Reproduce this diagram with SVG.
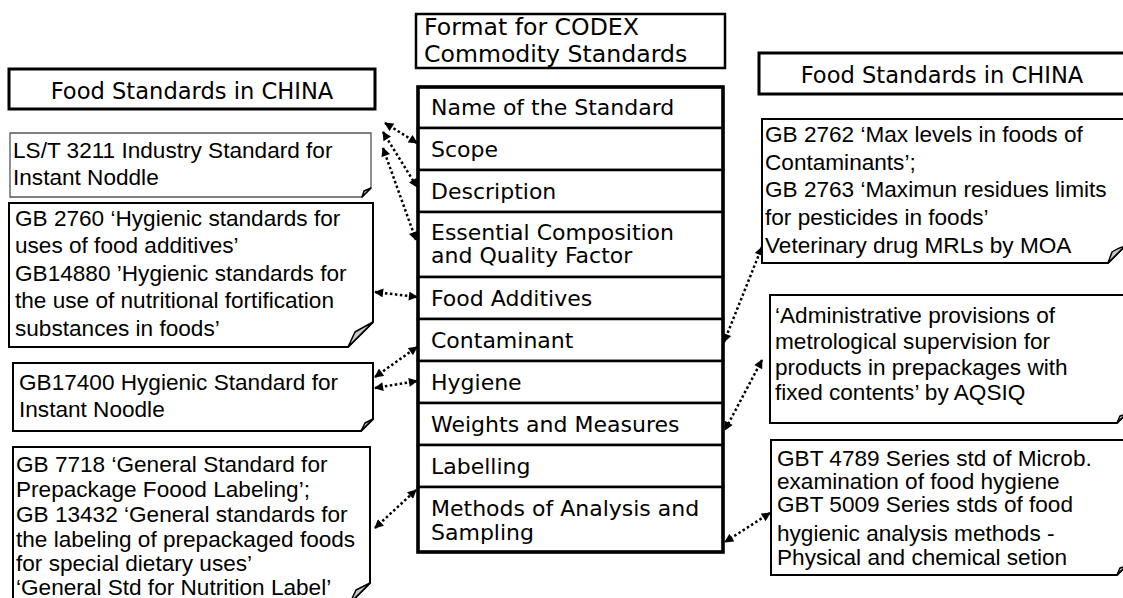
<svg xmlns="http://www.w3.org/2000/svg" width="1123" height="598" viewBox="0 0 1123 598">
<style>
.hdr{fill:#fff;stroke:#000;stroke-width:3}
.row{fill:#fff;stroke:#000;stroke-width:2.5}
.note{fill:#fff;stroke:#000;stroke-width:2}
.thin{fill:#fff;stroke:#555;stroke-width:1.3}
.flap{fill:#c8c8c8;stroke:#000;stroke-width:1.5;stroke-linejoin:round}
.v{font-family:"DejaVu Sans",Verdana,sans-serif;font-size:22px;fill:#000}
.h{font-family:"DejaVu Sans",Verdana,sans-serif;font-size:22.6px;fill:#000}
.a{font-family:"Liberation Sans",Arial,sans-serif;font-size:22.6px;fill:#000}
.conn{fill:none;stroke:#000;stroke-width:2.5;stroke-dasharray:2.5 2.5;marker-start:url(#ah);marker-end:url(#ah)}
</style>
<defs>
<marker id="ah" viewBox="0 0 10 10" refX="9" refY="5" markerWidth="10" markerHeight="9" markerUnits="userSpaceOnUse" orient="auto-start-reverse">
<path d="M0,0 L10,5 L0,10 z" fill="#000"/>
</marker>
</defs>
<rect width="1123" height="598" fill="#fff"/>

<g id="codex-header">
<rect class="row" x="416" y="14" width="309" height="54"/>
<text class="v" x="424" y="35" style="font-size:23.6px">Format for CODEX</text>
<text class="v" x="424" y="62" style="font-size:23.6px">Commodity Standards</text>
</g>

<g id="china-header-left">
<rect class="hdr" x="9" y="69" width="366" height="40"/>
<text class="h" x="192" y="99" text-anchor="middle">Food Standards in CHINA</text>
</g>

<g id="china-header-right">
<rect class="hdr" x="759" y="53" width="370" height="41"/>
<text class="h" x="942" y="83" text-anchor="middle">Food Standards in CHINA</text>
</g>

<g id="row-name"><rect class="row" x="418" y="87" width="305" height="41"/><text class="v" x="431" y="115">Name of the Standard</text></g>
<g id="row-scope"><rect class="row" x="418" y="128" width="305" height="42"/><text class="v" x="431" y="157">Scope</text></g>
<g id="row-description"><rect class="row" x="418" y="170" width="305" height="42"/><text class="v" x="431" y="199">Description</text></g>
<g id="row-essential"><rect class="row" x="418" y="212" width="305" height="65"/><text class="v" x="431" y="240">Essential Composition</text><text class="v" x="431" y="263">and Quality Factor</text></g>
<g id="row-additives"><rect class="row" x="418" y="277" width="305" height="42"/><text class="v" x="431" y="306">Food Additives</text></g>
<g id="row-contaminant"><rect class="row" x="418" y="319" width="305" height="42"/><text class="v" x="431" y="348">Contaminant</text></g>
<g id="row-hygiene"><rect class="row" x="418" y="361" width="305" height="42"/><text class="v" x="431" y="390">Hygiene</text></g>
<g id="row-weights"><rect class="row" x="418" y="403" width="305" height="42"/><text class="v" x="431" y="432">Weights and Measures</text></g>
<g id="row-labelling"><rect class="row" x="418" y="445" width="305" height="42"/><text class="v" x="431" y="474">Labelling</text></g>
<g id="row-methods"><rect class="row" x="418" y="487" width="305" height="65"/><text class="v" x="431" y="516">Methods of Analysis and</text><text class="v" x="431" y="540">Sampling</text></g>
<rect x="418" y="87" width="305" height="465" fill="none" stroke="#000" stroke-width="3.5"/>

<g id="note-lst3211">
<path class="thin" d="M10,133 H371 V188 L362,197 H10 Z"/>
<path class="flap" d="M371,188 L364,191 L362,197 Z"/>
<text class="a" x="13" y="158">LS/T 3211 Industry Standard for</text>
<text class="a" x="13" y="185">Instant Noddle</text>
</g>

<g id="note-gb2760">
<path class="note" d="M9,203 H373 V322 L348,347 H9 Z"/>
<path class="flap" d="M373,322 Q362,328 355,332 L348,347 Z"/>
<text class="a" x="15" y="226">GB 2760 ‘Hygienic standards for</text>
<text class="a" x="15" y="253">uses of food additives’</text>
<text class="a" x="15" y="281">GB14880 ’Hygienic standards for</text>
<text class="a" x="15" y="308">the use of nutritional fortification</text>
<text class="a" x="15" y="336">substances  in foods’</text>
</g>

<g id="note-gb17400">
<path class="note" d="M13,363 H373 V419 L361,431 H13 Z"/>
<path class="flap" d="M373,419 L365,423 L361,431 Z"/>
<text class="a" x="19" y="390">GB17400 Hygienic Standard for</text>
<text class="a" x="19" y="417">Instant Noodle</text>
</g>

<g id="note-gb7718">
<path class="note" d="M13,447 H370 V583 L350,603 H13 Z"/>
<path class="flap" d="M370,583 Q362,587 356,590 L350,603 Z"/>
<text class="a" x="16" y="472">GB 7718 ‘General Standard for</text>
<text class="a" x="16" y="497">Prepackage Foood Labeling’;</text>
<text class="a" x="16" y="522">GB 13432 ‘General standards for</text>
<text class="a" x="16" y="547">the labeling of prepackaged foods</text>
<text class="a" x="16" y="571">for special dietary uses’</text>
<text class="a" x="16" y="595">‘General Std for Nutrition Label’</text>
</g>

<g id="note-gb2762">
<path class="note" d="M762,119 H1125 V246 L1108,263 H762 Z"/>
<path class="flap" d="M1125,246 Q1116,249 1112,252 L1108,263 Z"/>
<text class="a" x="765" y="142">GB 2762 ‘Max levels in foods of</text>
<text class="a" x="765" y="170">Contaminants’;</text>
<text class="a" x="765" y="197">GB 2763 ‘Maximun residues limits</text>
<text class="a" x="765" y="225">for pesticides in foods’</text>
<text class="a" x="765" y="253">Veterinary drug MRLs by MOA</text>
</g>

<g id="note-aqsiq">
<path class="note" d="M770,295 H1126 V414 L1117,423 H770 Z"/>
<path class="flap" d="M1126,414 L1120,416 L1117,423 Z"/>
<text class="a" x="775" y="323">‘Administrative provisions of</text>
<text class="a" x="775" y="349">metrological supervision for</text>
<text class="a" x="775" y="375">products in prepackages with</text>
<text class="a" x="775" y="400">fixed contents’ by AQSIQ</text>
</g>

<g id="note-gbt4789">
<path class="note" d="M771,440 H1126 V566 L1117,575 H771 Z"/>
<path class="flap" d="M1126,566 L1120,568 L1117,575 Z"/>
<text class="a" x="777" y="466">GBT 4789 Series std of  Microb.</text>
<text class="a" x="777" y="489">examination of food hygiene</text>
<text class="a" x="777" y="512">GBT 5009 Series stds of food</text>
<text class="a" x="777" y="541">hygienic analysis methods  -</text>
<text class="a" x="777" y="565">Physical and chemical setion</text>
</g>

<g id="connectors">
<line class="conn" x1="385" y1="123" x2="417" y2="143"/>
<line class="conn" x1="383" y1="132" x2="417" y2="187"/>
<line class="conn" x1="383" y1="148" x2="416" y2="240"/>
<line class="conn" x1="375" y1="292" x2="417" y2="297"/>
<line class="conn" x1="375" y1="377" x2="417" y2="347"/>
<line class="conn" x1="375" y1="388" x2="417" y2="381"/>
<line class="conn" x1="375" y1="528" x2="416" y2="490"/>
<line class="conn" x1="762" y1="247" x2="724" y2="342"/>
<line class="conn" x1="762" y1="360" x2="725" y2="430"/>
<line class="conn" x1="770" y1="513" x2="725" y2="542"/>
</g>
</svg>
